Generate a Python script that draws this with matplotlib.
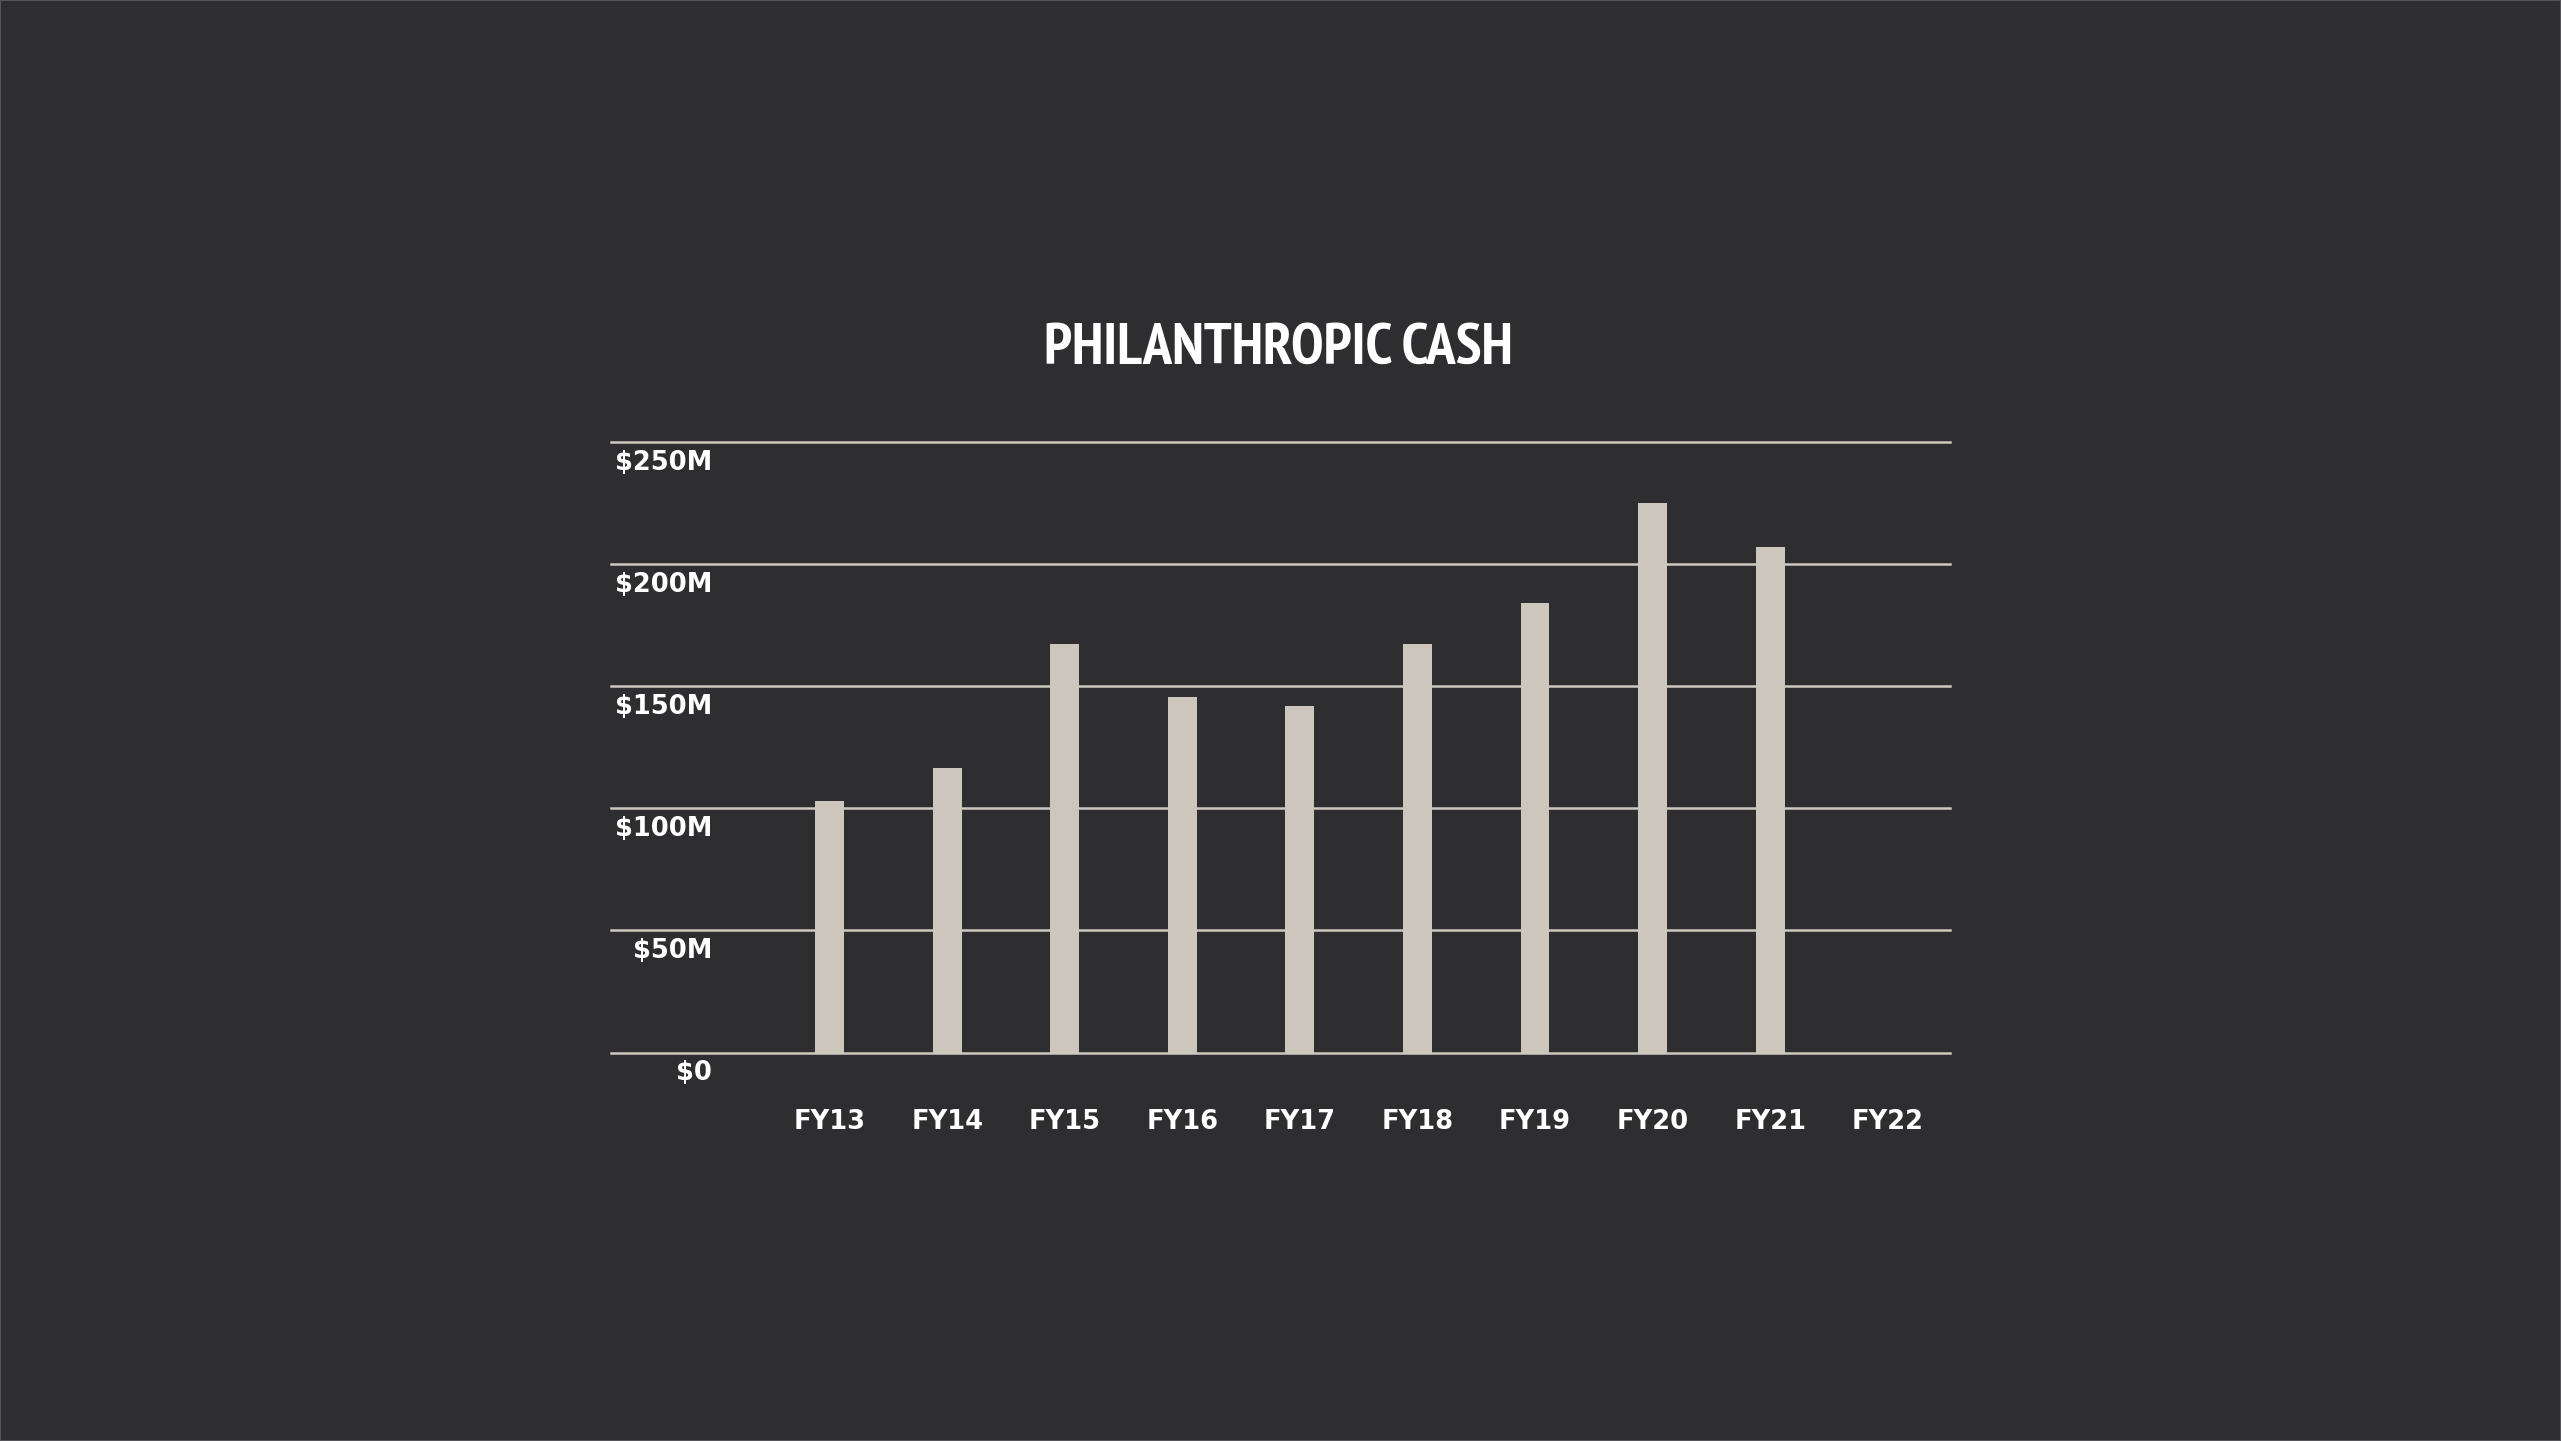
import numpy as np
import matplotlib
matplotlib.use("Agg")
import matplotlib.pyplot as plt
from matplotlib.transforms import ScaledTranslation
from matplotlib.patches import Rectangle
from matplotlib import font_manager as fm

categories = ["FY13", "FY14", "FY15", "FY16", "FY17", "FY18", "FY19", "FY20", "FY21", "FY22"]
values = [102.8, 116.6, 167.1, 145.6, 141.7, 167.1, 184.2, 224.9, 207.1, np.nan]
y_ticks = [0, 50, 100, 150, 200, 250]
y_tick_labels = ["$0", "$50M", "$100M", "$150M", "$200M", "$250M"]
title = "PHILANTHROPIC CASH"

BG = "#2e2e30"
BAR = "#cdc6bd"
GRID = "#cdc8c0"


def pick_condensed_font():
    cands = []
    for f in fm.fontManager.ttflist:
        name = f.name.lower()
        path = f.fname.lower()
        st = str(f.stretch).lower()
        score = None
        if "narrow" in name or "narrow" in path:
            score = 0
        elif "condensed" in name or "condensed" in path or st in ("condensed", "semi-condensed", "extra-condensed", "ultra-condensed"):
            score = 1
        if score is None:
            continue
        if "mono" in name or "serif" in name and "sans" not in name:
            score += 5
        w = f.weight if isinstance(f.weight, int) else 400
        if "bold" in path and "semi" not in path:
            w = 700
        if "oblique" in path or "italic" in path:
            score += 10
        score += abs(w - 600) / 1000.0
        cands.append((score, f.fname))
    cands.sort()
    return cands[0][1] if cands else None


W, H = 2561, 1441
fig = plt.figure(figsize=(W / 100, H / 100), dpi=100, facecolor=BG)
ax = fig.add_axes([611 / W, 1 - 1052.5 / H, (1950 - 611) / W, (1052.5 - 442) / H])
ax.set_facecolor(BG)

x = np.arange(len(categories))
ax.bar(x, values, width=0.245, color=BAR, zorder=2)

ax.set_xlim(-1.86, 9.53)
ax.set_ylim(0, 250)

for t in y_ticks:
    ax.axhline(t, color=GRID, linewidth=1.8, zorder=1, clip_on=False)

for s in ax.spines.values():
    s.set_visible(False)

ax.set_yticks([])
ax.set_xticks(x)
ax.set_xticklabels(categories)
ax.tick_params(axis="x", length=0, pad=0)
for lbl in ax.get_xticklabels():
    lbl.set_color("white")
    lbl.set_fontfamily("DejaVu Sans")
    lbl.set_fontweight("bold")
    lbl.set_fontsize(18.5)
    lbl.set_verticalalignment("center_baseline")
    lbl.set_transform(lbl.get_transform() + ScaledTranslation(0, -0.665, fig.dpi_scale_trans))

off = ScaledTranslation(0, -0.18, fig.dpi_scale_trans)
for t, lab in zip(y_ticks, y_tick_labels):
    ax.text(-1.0, t, lab, ha="right", va="center_baseline", color="white",
            fontfamily="DejaVu Sans", fontweight="bold", fontsize=18.5,
            transform=ax.transData + off, clip_on=False)

fpath = pick_condensed_font()
if fpath:
    tprop = fm.FontProperties(fname=fpath, size=41)
else:
    tprop = fm.FontProperties(family="DejaVu Sans", size=41)
ttl = fig.text(1278 / W, 1 - 364 / H, title, ha="center", va="baseline", color="white",
               fontproperties=tprop)

# fit title width to the reference (~470 px)
fig.canvas.draw()
bb = ttl.get_window_extent()
target = 470.0
scale = target / bb.width
scale = min(max(scale, 0.6), 1.06)
ttl.set_fontsize(41 * scale)

fig.patches.append(Rectangle((0, 0), 1, 1, transform=fig.transFigure, fill=False,
                             edgecolor="#555557", linewidth=1.5))

fig.savefig("out.png", dpi=100, facecolor=BG)
